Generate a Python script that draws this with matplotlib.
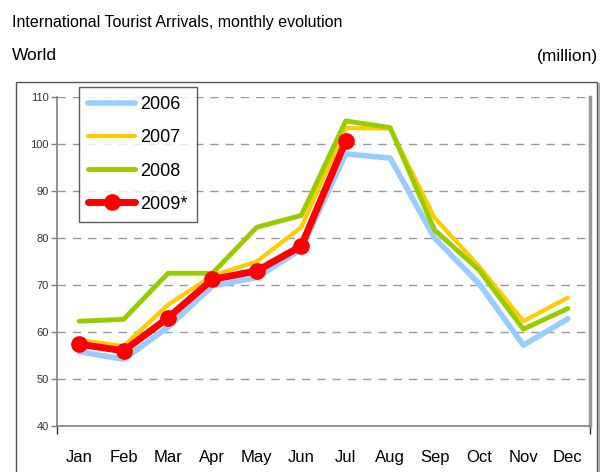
import numpy as np
import matplotlib.pyplot as plt
from matplotlib.patches import Rectangle

months = ['Jan', 'Feb', 'Mar', 'Apr', 'May', 'Jun', 'Jul', 'Aug', 'Sep', 'Oct', 'Nov', 'Dec']
y2006 = [55.8, 54.2, 61.0, 69.8, 71.6, 77.6, 97.9, 97.0, 80.0, 70.3, 57.2, 62.8]
y2007 = [58.3, 57.0, 65.8, 72.0, 75.0, 82.3, 103.4, 103.3, 84.3, 74.0, 62.3, 67.3]
y2008 = [62.3, 62.7, 72.5, 72.5, 82.3, 84.8, 104.9, 103.5, 81.7, 73.2, 60.6, 65.0]
y2009 = [57.4, 56.0, 63.0, 71.2, 73.0, 78.3, 100.6]
yticks = [40, 50, 60, 70, 80, 90, 100, 110]

plt.rcParams['font.family'] = ['Liberation Sans', 'DejaVu Sans']

fig = plt.figure(figsize=(6, 4.72), dpi=100)
ax = fig.add_axes([57 / 600, 1 - 426 / 472, (590 - 57) / 600, (426 - 97) / 472])

# outer frame around the chart area
frame = Rectangle((16 / 600, -0.05), (597 - 16) / 600, 1.05 - 82 / 472, transform=fig.transFigure,
                  fill=False, edgecolor='#555555', linewidth=1.0, zorder=0)
fig.patches.append(frame)
fig.add_artist(plt.Line2D([598.5 / 600, 598.5 / 600], [0, 1 - 84 / 472], transform=fig.transFigure,
                          color='#aaaaaa', linewidth=1.5))

x = np.arange(len(months))
ax.plot(x, y2006, color='#99ccff', lw=4, label='2006', solid_capstyle='round')
ax.plot(x, y2007, color='#ffcc00', lw=3, label='2007', solid_capstyle='round')
ax.plot(x, y2008, color='#99cc00', lw=3.5, label='2008', solid_capstyle='round')
ax.plot(x[:len(y2009)], y2009, color='#ff0000', lw=5, marker='o', ms=11, label='2009*',
        solid_capstyle='round')

ax.set_xlim(-0.5, 11.5)
ax.set_ylim(40, 110)
ax.set_yticks(yticks)
ax.set_yticklabels([str(v) for v in yticks], fontsize=8, color='#333333')
ax.set_xticks(x)
ax.set_xticklabels(months, fontsize=12)
ax.tick_params(axis='x', length=0, pad=17)
ax.tick_params(axis='y', length=4, color='#808080', width=1, pad=2)
ax.set_xticks([-0.5, 11.5], minor=True)
ax.tick_params(axis='x', which='minor', length=6, color='#333333', width=1)

for v in yticks[1:]:
    ax.axhline(v, color='#999999', lw=1, dashes=(6, 5), zorder=0)

ax.spines['top'].set_visible(False)
ax.spines['left'].set_color('#808080')
ax.spines['left'].set_linewidth(1.2)
ax.spines['bottom'].set_color('#808080')
ax.spines['bottom'].set_linewidth(1.2)
ax.spines['right'].set_color('#999999')
ax.spines['right'].set_linewidth(2.5)

leg = ax.legend(loc='upper left', bbox_to_anchor=(22 / 533, 1 + 10 / 329), fontsize=13,
                frameon=True, fancybox=False, edgecolor='#333333', borderpad=0.5,
                handlelength=2.6, handletextpad=0.3, labelspacing=0.9, borderaxespad=0)
leg.get_frame().set_linewidth(1.0)

fig.text(12 / 600, 1 - 22 / 472, 'International Tourist Arrivals, monthly evolution',
         fontsize=11.5, va='center', ha='left')
fig.text(12 / 600, 1 - 56 / 472, 'World', fontsize=12.5, va='center', ha='left')
fig.text(598 / 600, 1 - 56 / 472, '(million)', fontsize=12.5, va='center', ha='right')

fig.savefig('out.png', dpi=100)
